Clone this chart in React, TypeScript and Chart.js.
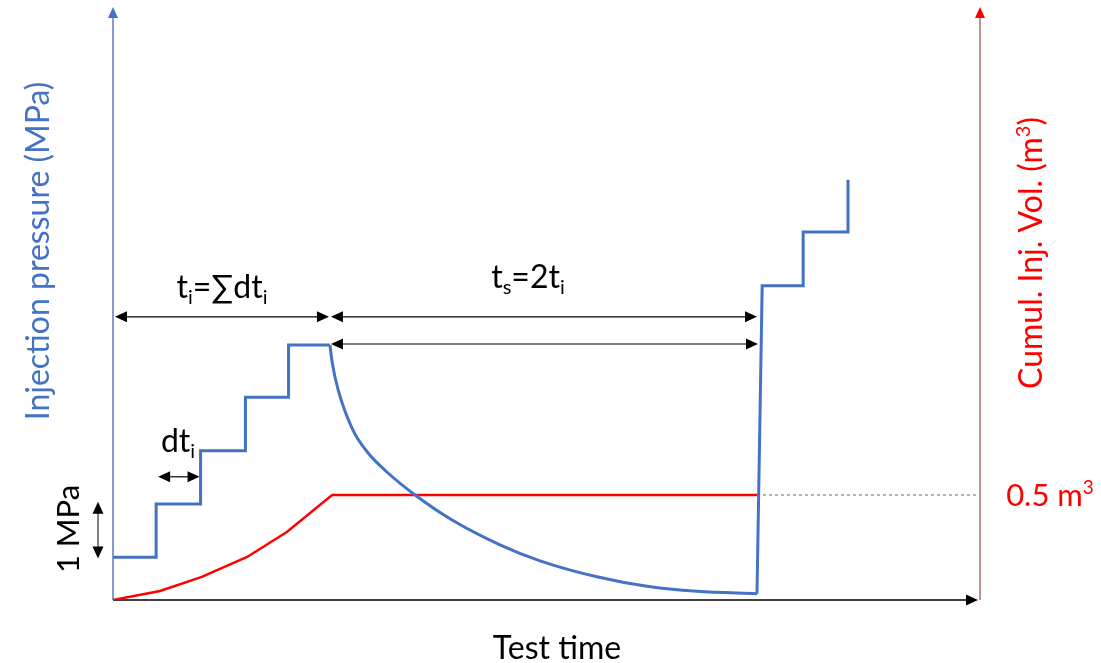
import React, { useEffect, useRef } from "react";
import { Chart, registerables } from "chart.js";

Chart.register(...registerables);

// ---- data (time in units of dt, pressure in MPa, volume in m3) ----
const injTime = [0, 1.0, 1.0, 2.03, 2.03, 3.07, 3.07, 4.07, 4.07, 5.03];
const injPressure = [0.8, 0.8, 1.8, 1.8, 2.8, 2.8, 3.8, 3.8, 4.78, 4.78];

const shutTime = [5.03, 5.08, 5.22, 5.56, 5.91, 6.35, 7.05, 7.88, 8.97, 9.9, 11.22, 12.38, 13.54, 14.93];
const shutPressure = [4.78, 4.46, 3.94, 3.19, 2.76, 2.4, 1.94, 1.49, 1.035, 0.735, 0.435, 0.257, 0.163, 0.118];

const reTime = [14.93, 15.05, 15.05, 16.0, 16.0, 17.04, 17.04];
const rePressure = [0.118, 5.89, 5.89, 5.89, 6.9, 6.9, 7.88];

const volTime = [0, 1.09, 2.06, 3.11, 4.03, 5.08, 14.93];
const volume = [0, 0.043, 0.11, 0.205, 0.324, 0.5, 0.5];

const refVolTime = [14.93, 20.05];
const refVolume = [0.5, 0.5];

const tInj = 5.03; // t_i
const tShut = 14.93; // end of shut-in

const BLUE = "#4472C4";
const RED = "#FF0000";
const FONT = "Lato, 'Open Sans', 'DejaVu Sans', sans-serif";

type Part = [string, number]; // 0 normal, 1 sub, -1 sup

function pts(xs: number[], ys: number[]) {
  return xs.map((x, i) => ({ x, y: ys[i] }));
}

function arrowHead(ctx: CanvasRenderingContext2D, tx: number, ty: number, dx: number, dy: number, color: string, len = 12, half = 5.5) {
  const px = -dy, py = dx;
  const bx = tx - dx * len, by = ty - dy * len;
  ctx.beginPath();
  ctx.moveTo(tx, ty);
  ctx.lineTo(bx + px * half, by + py * half);
  ctx.lineTo(bx - px * half, by - py * half);
  ctx.closePath();
  ctx.fillStyle = color;
  ctx.fill();
}

function hArrow(ctx: CanvasRenderingContext2D, x1: number, x2: number, y: number) {
  ctx.strokeStyle = "#000";
  ctx.lineWidth = 1.2;
  ctx.beginPath();
  ctx.moveTo(x1 + 8, y);
  ctx.lineTo(x2 - 8, y);
  ctx.stroke();
  arrowHead(ctx, x1, y, -1, 0, "#000");
  arrowHead(ctx, x2, y, 1, 0, "#000");
}

function rich(ctx: CanvasRenderingContext2D, parts: Part[], cx: number, baseY: number, size: number, color: string) {
  const fontFor = (m: number) => `${m === 0 ? size : Math.round(size * 0.62)}px ${FONT}`;
  let total = 0;
  parts.forEach(([t, m]) => {
    ctx.font = fontFor(m);
    total += ctx.measureText(t).width;
  });
  let x = cx - total / 2;
  ctx.fillStyle = color;
  ctx.textAlign = "left";
  ctx.textBaseline = "alphabetic";
  parts.forEach(([t, m]) => {
    ctx.font = fontFor(m);
    const dy = m === 1 ? size * 0.2 : m === -1 ? -size * 0.38 : 0;
    ctx.fillText(t, x, baseY + dy);
    x += ctx.measureText(t).width;
  });
}

const overlay = {
  id: "overlay",
  beforeDatasetsDraw(chart: any) {
    const { ctx, chartArea: a } = chart;
    ctx.save();
    // left axis
    ctx.strokeStyle = "#5A7DC0";
    ctx.lineWidth = 1.5;
    ctx.beginPath();
    ctx.moveTo(a.left, a.bottom);
    ctx.lineTo(a.left, a.top + 8);
    ctx.stroke();
    arrowHead(ctx, a.left, a.top - 1, 0, -1, BLUE, 11, 5);
    // right axis
    ctx.strokeStyle = "#A86C6C";
    ctx.beginPath();
    ctx.moveTo(a.right, a.bottom);
    ctx.lineTo(a.right, a.top + 8);
    ctx.stroke();
    arrowHead(ctx, a.right, a.top - 1, 0, -1, RED, 11, 5);
    // x axis
    ctx.strokeStyle = "#000";
    ctx.lineWidth = 1.5;
    ctx.beginPath();
    ctx.moveTo(a.left, a.bottom);
    ctx.lineTo(a.right - 8, a.bottom);
    ctx.stroke();
    arrowHead(ctx, a.right - 2, a.bottom, 1, 0, "#000", 12, 5.5);
    ctx.restore();
  },
  afterDatasetsDraw(chart: any) {
    const { ctx, chartArea: a, scales } = chart;
    const sx = scales.x, sy = scales.y;
    const X = (v: number) => sx.getPixelForValue(v);
    const Y = (v: number) => sy.getPixelForValue(v);
    ctx.save();

    // time span arrows
    const yTop = Y(5.31);
    hArrow(ctx, a.left + 2, X(tInj) - 1, yTop);
    hArrow(ctx, X(tInj) + 1, X(tShut), yTop);
    // second arrow (t_s) at top of injection
    ctx.strokeStyle = "#000";
    ctx.lineWidth = 1.2;
    const y2 = Y(4.8);
    ctx.beginPath();
    ctx.moveTo(X(tInj) + 8, y2);
    ctx.lineTo(X(tShut) - 8, y2);
    ctx.stroke();
    arrowHead(ctx, X(tInj) + 1, y2, -1, 0, "#000");
    arrowHead(ctx, X(tShut) + 1, y2, 1, 0, "#000");

    // dt arrow
    hArrow(ctx, X(1.0) + 2, X(2.03) - 1, Y(2.31));

    // 1 MPa arrow
    const ax = a.left - 15;
    ctx.strokeStyle = "#555";
    ctx.lineWidth = 1.5;
    ctx.beginPath();
    ctx.moveTo(ax, Y(1.8) + 8);
    ctx.lineTo(ax, Y(0.8) - 8);
    ctx.stroke();
    arrowHead(ctx, ax, Y(1.84), 0, -1, "#000", 12, 5.5);
    arrowHead(ctx, ax, Y(0.78), 0, 1, "#000", 12, 5.5);

    // labels
    rich(ctx, [["t", 0], ["i", 1], ["=∑dt", 0], ["i", 1]], 222, 298, 32, "#000");
    rich(ctx, [["t", 0], ["s", 1], ["=2t", 0], ["i", 1]], 528, 288, 32, "#000");
    rich(ctx, [["dt", 0], ["i", 1]], 178, 452, 32, "#000");
    rich(ctx, [["0.5 m", 0], ["3", -1]], 1050, 506, 31, RED);
    rich(ctx, [["Test time", 0]], 557, 659, 32, "#000");

    // rotated labels
    const rot = (parts: Part[], cx: number, cy: number, size: number, color: string) => {
      ctx.save();
      ctx.translate(cx, cy);
      ctx.rotate(-Math.PI / 2);
      rich(ctx, parts, 0, size * 0.35, size, color);
      ctx.restore();
    };
    rot([["Injection pressure (MPa)", 0]], 38, 251, 32, BLUE);
    rot([["Cumul. Inj. Vol. (m", 0], ["3", -1], [")", 0]], 1031, 253, 32, RED);
    rot([["1 MPa", 0]], 68, 529, 31, "#000");

    ctx.restore();
  },
};

export default function App() {
  const ref = useRef<HTMLCanvasElement>(null);
  useEffect(() => {
    if (!ref.current) return;
    const chart = new Chart(ref.current, {
      type: "line",
      data: {
        datasets: [
          { data: pts(injTime, injPressure), borderColor: BLUE, borderWidth: 3, pointRadius: 0, tension: 0, yAxisID: "y", borderJoinStyle: "miter" },
          { data: pts(shutTime, shutPressure), borderColor: BLUE, borderWidth: 3, pointRadius: 0, cubicInterpolationMode: "monotone", yAxisID: "y" },
          { data: pts(reTime, rePressure), borderColor: BLUE, borderWidth: 3, pointRadius: 0, tension: 0, yAxisID: "y", borderJoinStyle: "miter" },
          { data: pts(volTime, volume), borderColor: RED, borderWidth: 2.5, pointRadius: 0, tension: 0, yAxisID: "y1" },
          { data: pts(refVolTime, refVolume), borderColor: "#666", borderWidth: 1, borderDash: [3, 3], pointRadius: 0, yAxisID: "y1" },
        ] as any,
      },
      options: {
        animation: false,
        responsive: false,
        layout: { padding: { left: 113, right: 121, top: 8, bottom: 63 } },
        plugins: { legend: { display: false }, tooltip: { enabled: false } },
        scales: {
          x: { type: "linear", min: 0, max: 20.1, display: false },
          y: { type: "linear", min: 0, max: 11.1, display: false },
          y1: { type: "linear", min: 0, max: 2.819, display: false, position: "right" },
        },
      } as any,
      plugins: [overlay],
    });
    return () => chart.destroy();
  }, []);
  return (
    <div style={{ position: "absolute", left: 0, top: 0, width: 1101, height: 663, background: "#fff" }}>
      <canvas ref={ref} width={1101} height={663} style={{ display: "block" }} />
    </div>
  );
}
